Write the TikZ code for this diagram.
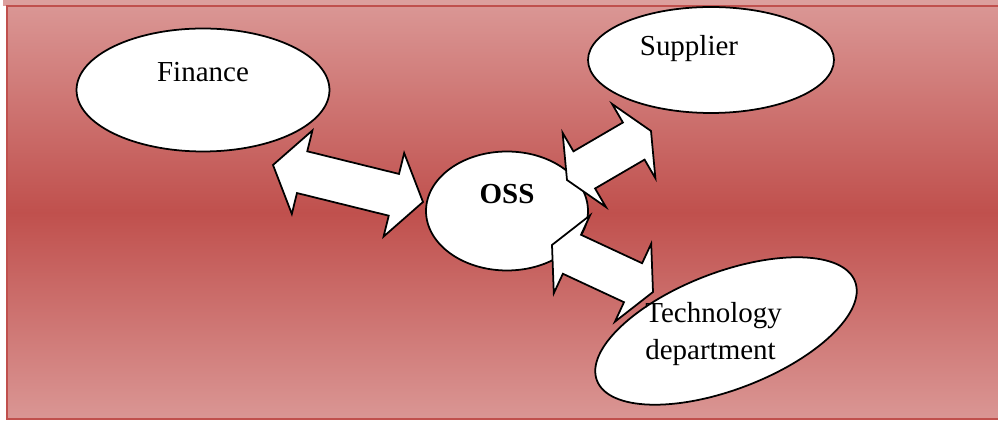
\documentclass[tikz,border=0pt]{standalone}
\usepackage{fontspec}
\setmainfont{Liberation Serif}
\usepackage{xcolor}
\usepackage{tikz}
\usetikzlibrary{shapes.geometric, calc}

\definecolor{accent}{HTML}{C0504D}
\definecolor{pale}{HTML}{DA9694}

\begin{document}
\begin{tikzpicture}[
  x=0.02cm, y=-0.02cm,
  every node/.style={font=\fontsize{16.5}{21.5}\selectfont},
  unit/.style={ellipse, draw=black, line width=1pt, fill=white, inner sep=0pt},
  txt/.style={inner sep=0pt, anchor=base},
  blockarr/.style={draw=black, line width=1pt, fill=white, line join=miter,
    to path={
      -- ($(\tikztostart)!#1!(\tikztotarget)!0.86cm!90:(\tikztotarget)$)
      -- ($(\tikztostart)!#1!(\tikztotarget)!0.43cm!90:(\tikztotarget)$)
      -- ($(\tikztotarget)!#1!(\tikztostart)!0.43cm!-90:(\tikztostart)$)
      -- ($(\tikztotarget)!#1!(\tikztostart)!0.86cm!-90:(\tikztostart)$)
      -- (\tikztotarget)
      -- ($(\tikztotarget)!#1!(\tikztostart)!0.86cm!90:(\tikztostart)$)
      -- ($(\tikztotarget)!#1!(\tikztostart)!0.43cm!90:(\tikztostart)$)
      -- ($(\tikztostart)!#1!(\tikztotarget)!0.43cm!-90:(\tikztotarget)$)
      -- ($(\tikztostart)!#1!(\tikztotarget)!0.86cm!-90:(\tikztotarget)$)
      -- cycle}},
]

% Background panel
\useasboundingbox (0,0) rectangle (998,421);
\fill[accent!55!white] (3,0) rectangle (998,6);
\shade[top color=pale, bottom color=pale, middle color=accent] (7,6) rectangle (998,419);
\draw[accent, line width=1.2pt] (7,6) rectangle (1000,419);

% Units
\node[unit, minimum width=5.06cm, minimum height=2.46cm] (fin) at (203,90) {};
\node[unit, minimum width=4.92cm, minimum height=2.12cm] (sup) at (711,60) {};
\node[unit, minimum width=3.24cm, minimum height=2.38cm] (oss) at (507,211) {};
\node[unit, minimum width=5.53cm, minimum height=2.34cm, rotate=21] (tech) at (726,331) {};

% Arrow ends
\coordinate (fin-tip) at (273,165);
\coordinate (oss-w) at (423,202);
\coordinate (oss-ne) at (567,180);
\coordinate (sup-tip) at (651,131);
\coordinate (oss-se) at (552,245);
\coordinate (tech-tip) at (653,292);

% Block arrows
\draw[blockarr=0.6cm] (fin-tip) to (oss-w);
\draw[blockarr=0.4cm] (oss-ne) to (sup-tip);
\draw[blockarr=0.44cm] (oss-se) to (tech-tip);

% Labels
\node[txt] (fin-t) at (203,82) {Finance};
\node[txt] (sup-t) at (689,56) {Supplier};
\node[txt, font=\fontsize{16.5}{21.5}\selectfont\bfseries] (oss-t) at (507,204) {OSS};
\node[txt, anchor=base west, align=left] (tech-t) at (645,360) {Technology\\department};

\end{tikzpicture}
\end{document}
